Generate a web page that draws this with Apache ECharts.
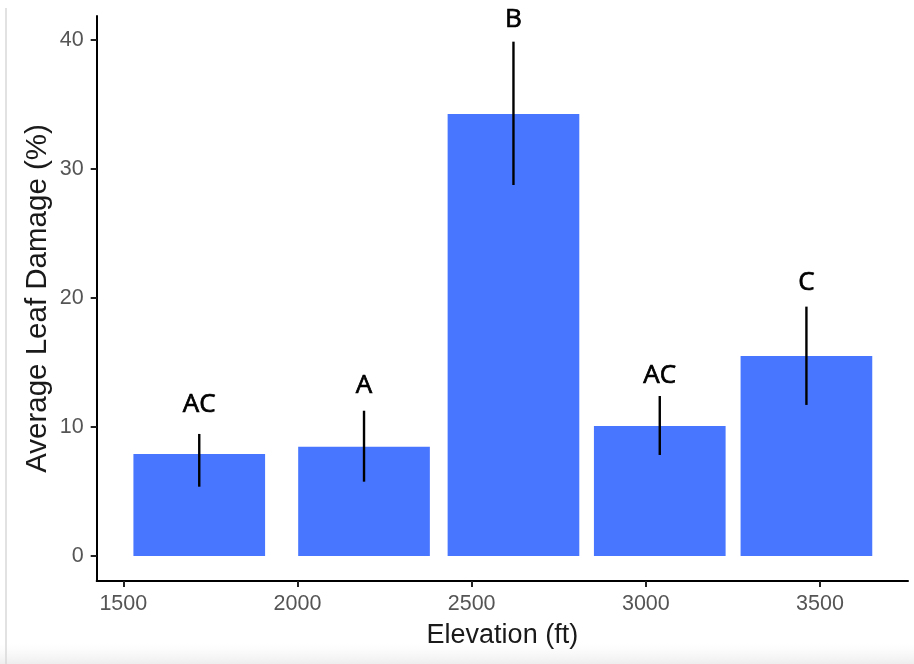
<!DOCTYPE html>
<html>
<head>
<meta charset="utf-8">
<script src="https://cdn.jsdelivr.net/npm/echarts@6/dist/echarts.min.js"></script>
<style>
  html, body { margin: 0; padding: 0; background: #ffffff; }
  #chart { width: 914px; height: 664px; }
</style>
</head>
<body>
<div id="chart"></div>
<script>
// ---- data ----
const elevations = [1718, 2191, 2620, 3040, 3461];      // bar centres (ft)
const damage     = [7.91, 8.47, 34.26, 10.08, 15.50];   // mean leaf damage (%)
const errLow     = [5.37, 5.76, 28.76, 7.83, 11.71];
const errHigh    = [9.46, 11.26, 39.87, 12.40, 19.33];
const groupLetters = ['AC', 'A', 'B', 'AC', 'C'];
const letterY    = [11.73, 13.22, 41.58, 13.95, 21.16]; // annotation heights (%)
const xTicks = [1500, 2000, 2500, 3000, 3500];
const yTicks = [0, 10, 20, 30, 40];

const BAR_WIDTH_FT = 378;

const chart = echarts.init(document.getElementById('chart'), null, { renderer: 'canvas' });

const barData = elevations.map((x, i) => [x, damage[i]]);
const errData = elevations.map((x, i) => [x, errLow[i], errHigh[i]]);
const letterData = elevations.map((x, i) => [x, letterY[i], groupLetters[i]]);

const tickFont = { fontFamily: 'Liberation Sans, Arial, sans-serif', fontSize: 21.5, color: '#555555' };

chart.setOption({
  backgroundColor: '#ffffff',
  animation: false,
  grid: { left: 96.7, right: 6, top: 16, bottom: 83, containLabel: false },
  xAxis: {
    type: 'value',
    min: 1423.6,
    max: 3752.6,
    name: 'Elevation (ft)',
    nameLocation: 'middle',
    nameGap: 41,
    nameMoveOverlap: false,
    nameTextStyle: { fontFamily: 'Liberation Sans, Arial, sans-serif', fontSize: 27, color: '#1a1a1a' },
    axisLine: { show: true, onZero: false, lineStyle: { color: '#000000', width: 2 } },
    axisTick: { show: true, length: 6, customValues: xTicks, lineStyle: { color: '#222222', width: 2 } },
    axisLabel: Object.assign({ customValues: xTicks, margin: 12, formatter: function (v) { return String(v); } }, tickFont),
    splitLine: { show: false }
  },
  yAxis: {
    type: 'value',
    min: -1.94,
    max: 41.86,
    name: 'Average Leaf Damage (%)',
    nameLocation: 'middle',
    nameGap: 44,
    nameMoveOverlap: false,
    nameTextStyle: { fontFamily: 'Liberation Sans, Arial, sans-serif', fontSize: 29.5, color: '#1a1a1a' },
    axisLine: { show: true, onZero: false, lineStyle: { color: '#000000', width: 2 } },
    axisTick: { show: true, length: 6, customValues: yTicks, lineStyle: { color: '#222222', width: 2 } },
    axisLabel: Object.assign({ customValues: yTicks, margin: 13, formatter: function (v) { return String(v); } }, tickFont),
    splitLine: { show: false }
  },
  series: [
    {
      type: 'custom',
      name: 'bars',
      data: barData,
      renderItem: function (params, api) {
        const x = api.value(0), y = api.value(1);
        const p0 = api.coord([x - BAR_WIDTH_FT / 2, 0]);
        const p1 = api.coord([x + BAR_WIDTH_FT / 2, y]);
        return {
          type: 'rect',
          shape: { x: p0[0], y: p1[1], width: p1[0] - p0[0], height: p0[1] - p1[1] },
          style: { fill: '#4876FF' }
        };
      }
    },
    {
      type: 'custom',
      name: 'errors',
      data: errData,
      renderItem: function (params, api) {
        const x = api.value(0);
        const lo = api.coord([x, api.value(1)]);
        const hi = api.coord([x, api.value(2)]);
        return {
          type: 'line',
          shape: { x1: lo[0], y1: lo[1], x2: hi[0], y2: hi[1] },
          style: { stroke: '#000000', lineWidth: 2.4 }
        };
      }
    },
    {
      type: 'custom',
      name: 'letters',
      data: letterData,
      clip: false,
      renderItem: function (params, api) {
        const p = api.coord([api.value(0), api.value(1)]);
        return {
          type: 'text',
          x: p[0],
          y: p[1],
          style: {
            text: groupLetters[params.dataIndex],
            fill: '#000000',
            stroke: '#000000',
            lineWidth: 0.7,
            font: '26px "Open Sans", sans-serif',
            align: 'center',
            verticalAlign: 'middle'
          }
        };
      }
    }
  ],
  graphic: [
    { type: 'line', shape: { x1: 6, y1: 8, x2: 6, y2: 664 }, style: { stroke: '#d8d8d8', lineWidth: 1.5 }, silent: true },
    {
      type: 'rect', shape: { x: 0, y: 644, width: 914, height: 20 }, silent: true, z: -1,
      style: { fill: new echarts.graphic.LinearGradient(0, 0, 0, 1, [{ offset: 0, color: 'rgba(245,245,245,0)' }, { offset: 1, color: 'rgba(238,238,238,1)' }]) }
    }
  ]
});
</script>
</body>
</html>
